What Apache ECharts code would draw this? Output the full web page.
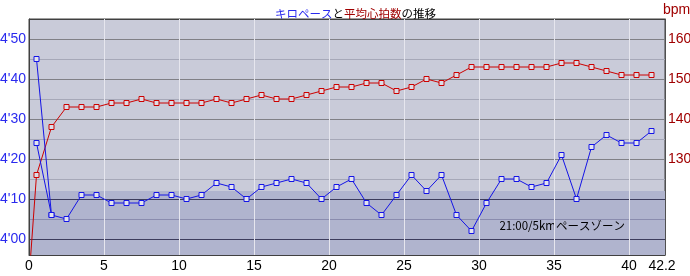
<!DOCTYPE html>
<html><head><meta charset="utf-8">
<script src="https://cdn.jsdelivr.net/npm/echarts@6/dist/echarts.min.js"></script>
<style>html,body{margin:0;padding:0;background:#fff}#c{width:690px;height:276px}</style>
</head><body><div id="c"></div>
<script>
// km positions of lap points
const kmPoints = [0.5,1.5,2.5,3.5,4.5,5.5,6.5,7.5,8.5,9.5,10.5,11.5,12.5,13.5,14.5,15.5,16.5,17.5,18.5,19.5,20.5,21.5,22.5,23.5,24.5,25.5,26.5,27.5,28.5,29.5,30.5,31.5,32.5,33.5,34.5,35.5,36.5,37.5,38.5,39.5,40.5,41.5];
// pace in seconds per km
const paceSec = [285,246,245,251,251,249,249,249,251,251,250,251,254,253,250,253,254,255,254,250,253,255,249,246,251,256,252,256,246,242,249,255,255,253,254,261,250,263,266,264,264,267];
// alternate first-km pace segment
const paceAltKm = [0.5,1.5];
const paceAlt = [264,246];
// average heart rate (bpm)
const hrKm = [0];
const hrStart = [100];
const hrBpm = [126,138,143,143,143,144,144,145,144,144,144,144,145,144,145,146,145,145,146,147,148,148,149,149,147,148,150,149,151,153,153,153,153,153,153,154,154,153,152,151,151,151];
// axis ticks / labels
const xTicks = [0,5,10,15,20,25,30,35,40,42.2];
const paceTicks = [240,250,260,270,280,290];
const bpmTicks = [130,140,150,160];
const zonePace = 252; // 21:00/5km
const zoneLabel = '21:00/5kmペースゾーン';

const fmtPace = v => Math.floor(v/60) + "'" + String(Math.round(v%60)).padStart(2,'0');
const paceData = kmPoints.map((k,i)=>[k,paceSec[i]]);
const paceAltData = paceAltKm.map((k,i)=>[k,paceAlt[i]]);
const hrData = hrKm.map((k,i)=>[k,hrStart[i]]).concat(kmPoints.map((k,i)=>[k,hrBpm[i]]));

const fontNum = "'Liberation Sans Narrow','Liberation Sans',Arial,sans-serif";
const fontJP = "'Noto Sans CJK JP',sans-serif";
const blue='#1414E6', red='#CC0000';
// horizontal grid line colors: 236(min),240,245,250,255,...,295
const hLineColors = ['#404040','#3C3C5C','#8A8CAE','#3C3C5C','#A6A8B8','#808086','#A6A8B8','#808086','#A6A8B8','#808086','#A6A8B8','#808086','#404040'];

const chart = echarts.init(document.getElementById('c'), null, {renderer:'canvas'});
chart.setOption({
  animation:false,
  backgroundColor:'#ffffff',
  title:{
    text:'{b|キロペース}{k|と}{r|平均心拍数}{k|の推移}',
    left:270, top:3,
    textStyle:{fontFamily:fontJP, fontSize:11.5, fontWeight:'normal',
      rich:{b:{color:'#2A2AEE',fontFamily:fontJP,fontSize:11.5},k:{color:'#000',fontFamily:fontJP,fontSize:11.5},r:{color:'#A00000',fontFamily:fontJP,fontSize:11.5}}}
  },
  grid:{left:29,right:25,top:19,bottom:21,containLabel:false,outerBoundsMode:'none',show:true,z:-2,backgroundColor:'#C9CBD9',borderColor:'#404040',borderWidth:1},
  xAxis:{
    type:'value',min:0,max:42.4,interval:5,
    axisLine:{show:true,lineStyle:{color:'#404040'}},
    axisTick:{show:false},
    axisLabel:{customValues:xTicks,color:'#000',fontFamily:fontNum,fontSize:14,margin:4},
    splitLine:{show:true,showMinLine:false,showMaxLine:false,lineStyle:{color:'#E6E6EE',width:1}}
  },
  yAxis:[{
    type:'value',min:236,max:295,minInterval:5,maxInterval:5,position:'left',
    axisLine:{show:true,lineStyle:{color:'#404040'}},
    axisTick:{show:false},
    axisLabel:{customValues:paceTicks,formatter:fmtPace,color:'#2A2AEE',fontFamily:fontNum,fontSize:14,margin:3},
    splitLine:{show:true,lineStyle:{color:hLineColors,width:1}}
  },{
    type:'value',min:106,max:165,position:'right',
    name:'bpm',nameLocation:'end',nameGap:2,
    nameTextStyle:{color:'#A00000',fontFamily:fontNum,fontSize:14,align:'left',verticalAlign:'bottom',padding:[0,0,0,-2]},
    axisLine:{show:true,lineStyle:{color:'#505050'}},
    axisTick:{show:false},
    axisLabel:{customValues:bpmTicks,color:'#A00000',fontFamily:fontNum,fontSize:14,margin:3},
    splitLine:{show:false}
  }],
  series:[
    {type:'line',data:[],z:-1,silent:true,
     markArea:{silent:true,z:-1,itemStyle:{color:'#B0B4CE'},
       label:{show:true,position:[596,35],align:'right',verticalAlign:'middle',color:'#000',fontFamily:fontJP,fontSize:11.5,formatter:zoneLabel},
       data:[[{xAxis:-Infinity,yAxis:-Infinity},{xAxis:Infinity,yAxis:zonePace}]]}},
    {type:'line',yAxisIndex:1,data:hrData,z:3,symbol:'rect',symbolSize:5,showAllSymbol:true,
     lineStyle:{color:red,width:1},itemStyle:{color:'#DCDCE6',borderColor:red,borderWidth:1}},
    {type:'line',yAxisIndex:0,data:paceAltData,z:4,symbol:'rect',symbolSize:5,
     lineStyle:{color:blue,width:1},itemStyle:{color:'#E4E4EE',borderColor:blue,borderWidth:1}},
    {type:'line',yAxisIndex:0,data:paceData,z:4,symbol:'rect',symbolSize:5,showAllSymbol:true,
     lineStyle:{color:blue,width:1},itemStyle:{color:'#E4E4EE',borderColor:blue,borderWidth:1}}
  ]
});
</script></body></html>
